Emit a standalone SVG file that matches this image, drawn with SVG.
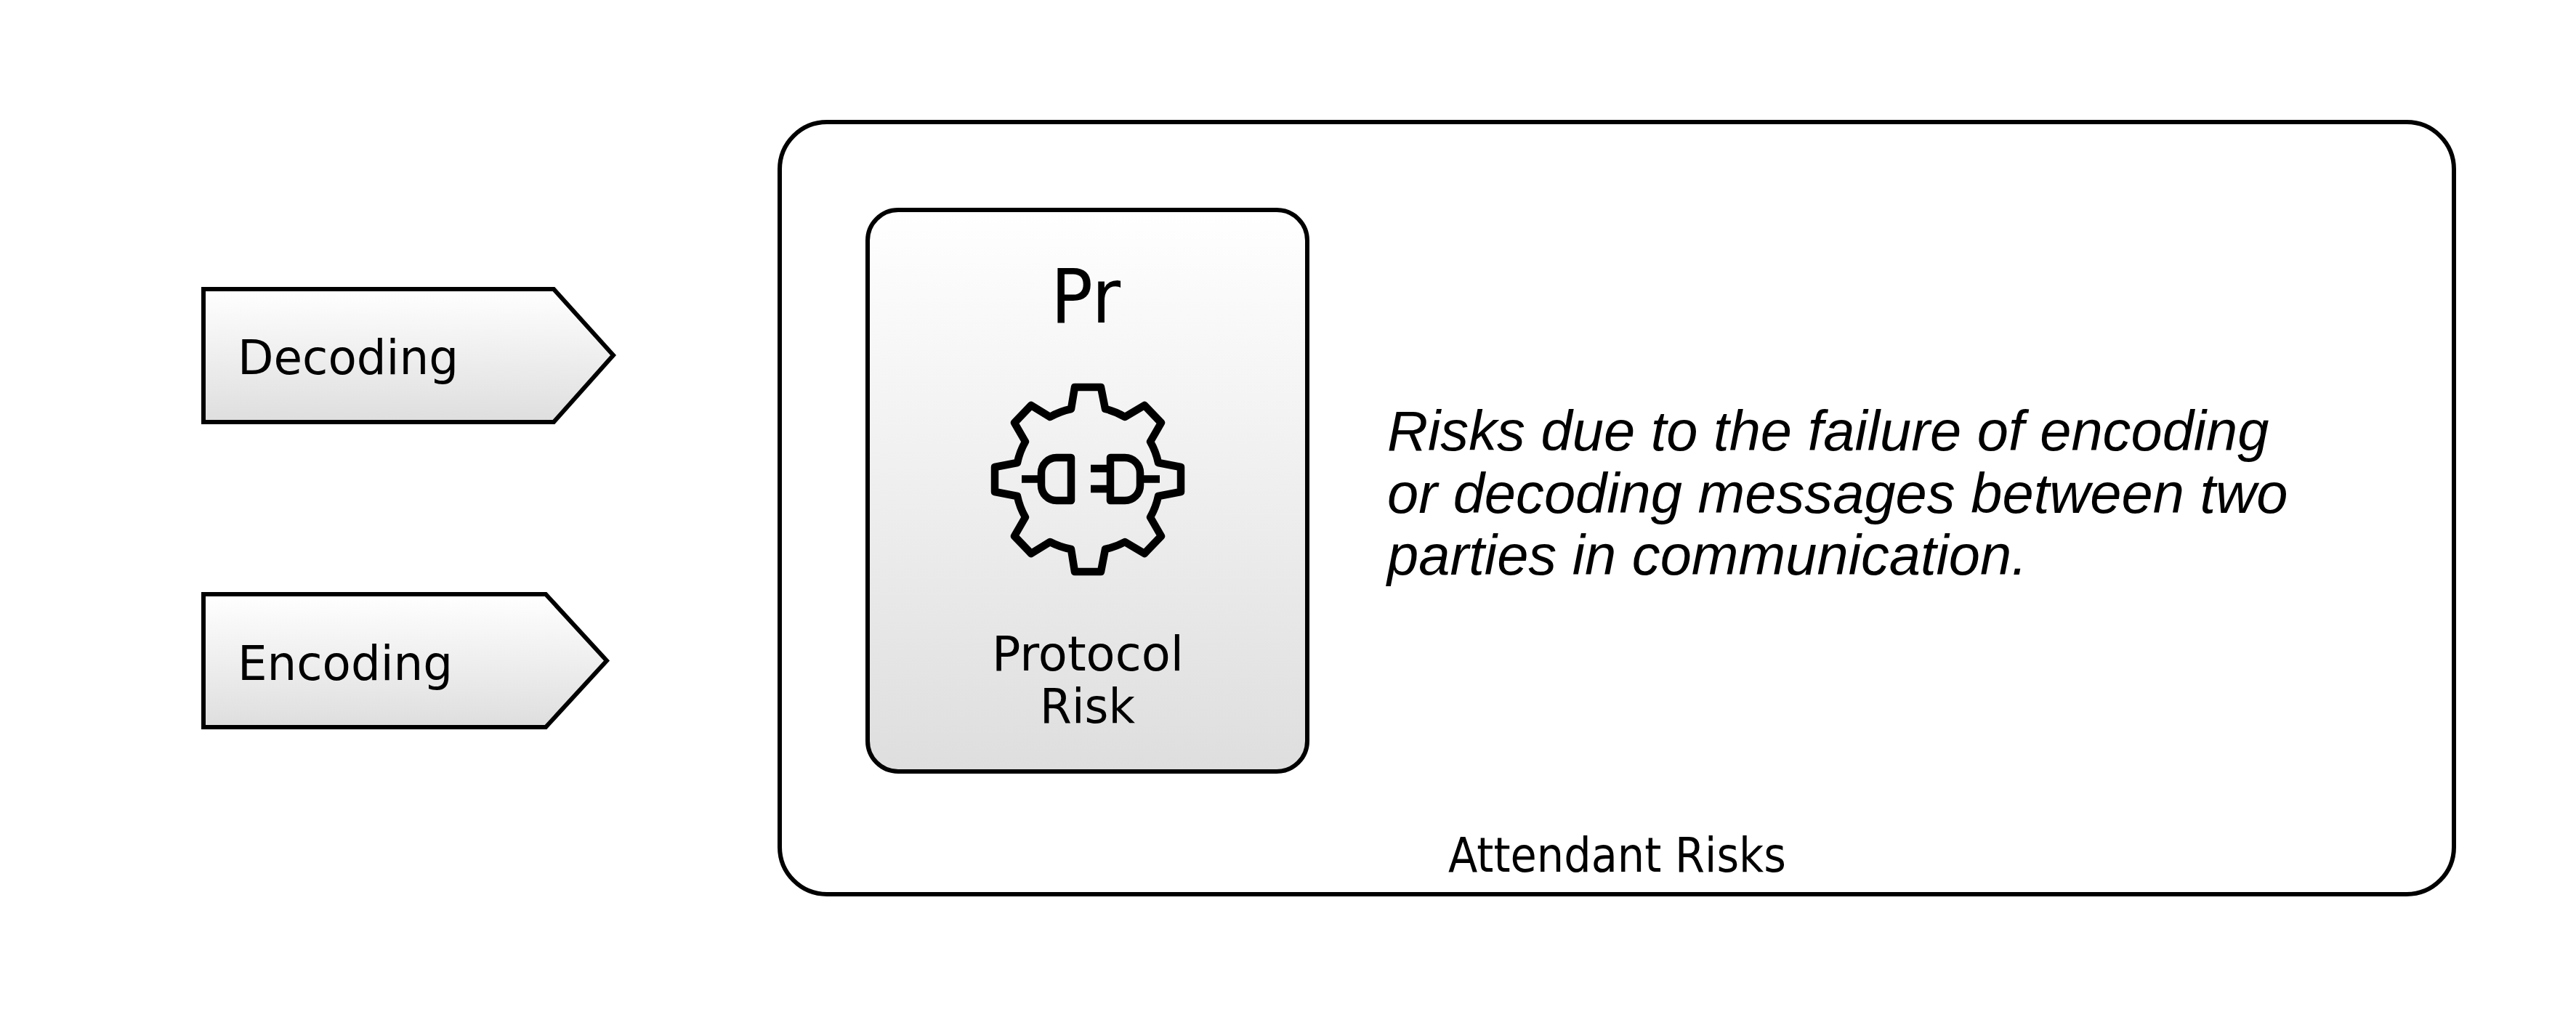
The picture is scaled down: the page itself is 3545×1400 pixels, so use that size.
<svg xmlns="http://www.w3.org/2000/svg" width="3545" height="1400" viewBox="0 0 3545 1400">
<defs>
<linearGradient id="g" x1="0" y1="0" x2="0" y2="1"><stop offset="0" stop-color="#ffffff"/><stop offset="1" stop-color="#dedede"/></linearGradient>
</defs>
<style>
.s{stroke:#000;stroke-width:6;stroke-miterlimit:10}
.f{fill:url(#g)}
.t{font-family:"DejaVu Sans",sans-serif;fill:#000}
.l{font-size:66px}
.i{font-family:"Liberation Sans",Arial,sans-serif;font-style:italic;font-size:77.700px;fill:#000}
.ic{fill:none;stroke:#000;stroke-width:10.500;stroke-linejoin:round}
</style>
<rect width="3545" height="1400" fill="#fff"/>
<g id="connectors"/>
<g id="decoding">
<path class="s f" d="M280 398H762L844 489L762 581H280Z"/>
<text class="t l" x="327" y="515" textLength="304" lengthAdjust="spacingAndGlyphs">Decoding</text>
</g>
<g id="encoding">
<path class="s f" d="M280 818H751L835 909.500L751 1001H280Z"/>
<text class="t l" x="327" y="936" textLength="296" lengthAdjust="spacingAndGlyphs">Encoding</text>
</g>
<g id="attendant">
<rect class="s" x="1073" y="168" width="2304" height="1063" rx="65" ry="65" fill="#fff"/>
<text class="t l" x="1993" y="1200" textLength="465" lengthAdjust="spacingAndGlyphs">Attendant Risks</text>
</g>
<g id="protocol">
<rect class="s f" x="1194" y="289" width="605" height="773" rx="42" ry="42"/>
<text class="t" x="1446" y="444" font-size="104" textLength="96" lengthAdjust="spacingAndGlyphs">Pr</text>
<g id="icon">
<path class="ic" d="M1479 533H1515L1521 563A100 100 0 0 1 1548 574L1575 558L1598 582L1583 608A100 100 0 0 1 1594 637L1625 643V677L1594 683A100 100 0 0 1 1583 712L1598 738L1575 762L1548 746A100 100 0 0 1 1521 756L1515 787H1479L1474 756A100 100 0 0 1 1445 746L1419 762L1396 738L1411 712A100 100 0 0 1 1400 683L1369 677V643L1400 637A100 100 0 0 1 1411 608L1396 582L1419 558L1445 574A100 100 0 0 1 1474 563Z"/>
<path class="ic" d="M1474 630H1454A21 21 0 0 0 1433 651V668A21 21 0 0 0 1454 689H1474Z"/>
<path class="ic" d="M1528 630H1548A21 21 0 0 1 1569 651V668A21 21 0 0 1 1548 689H1528Z"/>
<path class="ic" d="M1406 659.500H1433M1569 659.500H1596M1501 645H1528M1501 673H1528"/>
</g>
<text class="t l" x="1365" y="923" textLength="264" lengthAdjust="spacingAndGlyphs">Protocol</text>
<text class="t l" x="1431" y="995" textLength="131" lengthAdjust="spacingAndGlyphs">Risk</text>
</g>
<g id="description">
<text class="i" x="1909" y="620">Risks due to the failure of encoding</text>
<text class="i" x="1909" y="705.500">or decoding messages between two</text>
<text class="i" x="1909" y="791">parties in communication.</text>
</g>
</svg>
